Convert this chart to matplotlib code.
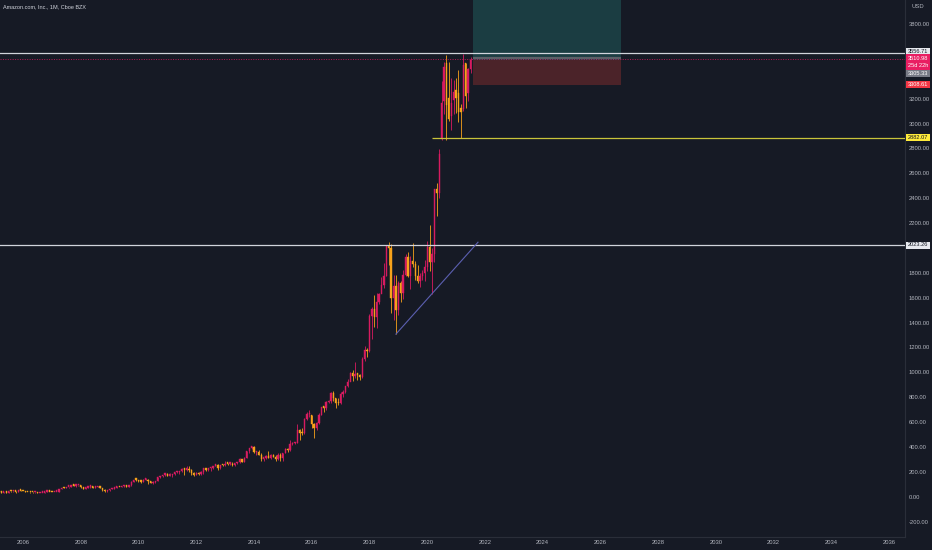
import matplotlib
matplotlib.use("Agg")
import matplotlib.pyplot as plt
from matplotlib.patches import Rectangle
import numpy as np

plt.rcParams["font.family"] = ["Liberation Sans", "DejaVu Sans"]

# ---------------- data (monthly AMZN candles, Jan 2005 .. Jul 2021) ----------------
start_year = 2005
opens = [
    44.9, 43.0, 35.0, 34.3, 32.4, 35.5, 33.1, 45.0, 42.7, 45.3, 39.9, 48.5,
    47.2, 45.0, 37.4, 36.5, 35.2, 34.6, 38.7, 27.0, 30.8, 32.1, 38.1, 40.3,
    39.5, 37.7, 39.1, 39.8, 61.3, 69.1, 68.4, 78.5, 79.9, 93.2, 89.2, 90.6,
    92.6, 77.7, 64.5, 71.3, 78.6, 81.6, 73.3, 76.3, 80.8, 72.8, 57.2, 42.7,
    51.3, 58.8, 64.8, 73.4, 80.5, 78.0, 83.7, 85.8, 81.2, 93.4, 118.8, 135.9,
    134.5, 125.4, 118.4, 135.8, 137.1, 125.5, 109.3, 117.9, 124.8, 157.1, 165.2, 175.4,
    180.0, 169.6, 173.3, 180.1, 195.8, 196.7, 204.5, 222.5, 215.2, 216.2, 213.5, 192.3,
    173.1, 194.4, 179.7, 202.5, 231.9, 212.9, 228.4, 233.3, 248.3, 254.3, 232.9, 252.1,
    250.9, 265.5, 264.3, 266.5, 253.8, 269.2, 277.7, 301.2, 281.0, 312.6, 364.0, 393.6,
    398.8, 358.7, 362.1, 336.4, 304.1, 312.6, 324.8, 313.0, 339.0, 322.4, 305.5, 338.6,
    310.4, 354.5, 380.2, 372.1, 421.8, 429.2, 434.1, 536.2, 512.9, 511.9, 625.9, 664.8,
    656.3, 587.0, 552.5, 593.6, 659.6, 722.8, 715.6, 758.8, 769.2, 837.3, 789.8, 750.6,
    749.9, 823.5, 845.0, 886.5, 925.0, 994.6, 968.0, 987.8, 980.6, 961.4, 1105.3, 1176.8,
    1169.5, 1450.9, 1512.5, 1447.3, 1566.1, 1629.6, 1699.8, 1777.4, 2012.7, 2003.0, 1598.0, 1690.2,
    1502.0, 1718.7, 1639.8, 1780.8, 1926.5, 1775.1, 1893.6, 1866.8, 1776.3, 1735.9, 1776.7, 1800.8,
    1847.8, 2008.7, 1883.8, 1949.7, 2474.0, 2442.4, 2878.7, 3180.0, 3489.6, 3208.0, 3061.7, 3188.5,
    3270.0, 3242.4, 3127.0, 3117.0, 3484.7, 3243.5, 3434.6,
]
highs = [
    45.0, 44.0, 36.5, 35.5, 36.5, 36.0, 45.5, 46.0, 46.0, 46.2, 48.9, 50.0,
    48.6, 45.5, 38.0, 38.5, 36.0, 39.5, 39.5, 31.0, 33.5, 39.0, 42.0, 41.5,
    40.9, 41.5, 40.5, 63.8, 73.0, 74.7, 80.9, 81.2, 94.0, 101.1, 94.5, 96.3,
    97.4, 81.5, 76.3, 82.5, 84.9, 82.5, 81.0, 87.2, 86.0, 73.0, 58.0, 55.0,
    60.0, 69.0, 75.0, 82.2, 81.9, 89.6, 92.5, 86.5, 96.0, 122.5, 137.0, 145.9,
    136.6, 126.5, 138.5, 151.1, 141.5, 129.5, 124.0, 126.6, 160.5, 170.2, 177.0, 184.8,
    191.6, 191.4, 181.2, 197.8, 206.4, 206.1, 227.2, 227.0, 244.0, 246.7, 219.0, 197.0,
    195.4, 196.0, 205.0, 232.0, 232.0, 229.0, 235.3, 249.3, 264.1, 263.0, 254.0, 262.0,
    284.7, 269.0, 276.0, 277.6, 272.0, 281.0, 309.4, 305.0, 318.0, 368.4, 395.0, 405.6,
    408.1, 366.0, 377.0, 348.0, 315.0, 336.0, 365.0, 342.0, 345.7, 338.6, 350.0, 352.0,
    355.0, 389.4, 389.0, 452.6, 436.0, 443.0, 580.6, 541.2, 555.0, 635.2, 681.0, 696.4,
    657.7, 590.0, 596.8, 669.3, 724.2, 731.5, 766.0, 774.5, 839.0, 847.2, 795.0, 791.3,
    843.8, 860.9, 890.4, 949.6, 1001.2, 1017.0, 1083.3, 994.0, 985.0, 1122.8, 1213.4, 1194.8,
    1472.6, 1528.7, 1617.5, 1638.1, 1635.0, 1763.1, 1880.1, 2025.6, 2050.5, 2033.2, 1784.0, 1778.3,
    1736.4, 1730.0, 1823.0, 1952.1, 1964.4, 1935.2, 2035.8, 1898.0, 1860.0, 1798.9, 1824.7, 1901.4,
    2055.7, 2185.9, 1996.3, 2475.0, 2525.5, 2796.0, 3344.3, 3495.0, 3552.3, 3496.0, 3366.8, 3350.7,
    3363.9, 3434.0, 3153.0, 3555.0, 3486.7, 3450.0, 3537.0,
]
lows = [
    42.0, 34.5, 33.5, 30.6, 32.0, 33.0, 33.0, 41.0, 41.5, 33.5, 39.5, 46.0,
    44.0, 35.0, 35.2, 33.5, 32.0, 33.5, 26.0, 26.5, 29.5, 31.5, 37.5, 38.0,
    36.3, 37.0, 35.5, 39.5, 60.0, 66.0, 67.5, 69.0, 78.5, 82.5, 80.5, 88.0,
    69.9, 62.0, 61.5, 70.0, 71.0, 72.5, 70.0, 75.0, 67.0, 47.5, 34.7, 40.0,
    47.5, 58.0, 59.5, 72.0, 74.0, 77.5, 76.0, 77.5, 79.5, 86.5, 117.0, 126.5,
    118.1, 112.0, 116.5, 135.0, 105.5, 108.5, 104.5, 113.5, 123.5, 151.5, 157.5, 170.0,
    163.6, 169.0, 160.6, 175.0, 190.0, 181.6, 201.0, 177.0, 210.5, 198.0, 175.0, 166.0,
    172.5, 172.0, 176.0, 185.5, 208.5, 208.0, 207.0, 225.5, 245.0, 218.2, 220.8, 243.0,
    248.0, 256.0, 257.0, 246.0, 249.0, 263.0, 270.0, 279.0, 280.0, 310.0, 355.0, 380.0,
    355.0, 338.0, 331.6, 284.4, 284.4, 307.0, 312.0, 304.0, 318.0, 284.0, 298.0, 285.3,
    285.3, 350.0, 360.0, 366.0, 415.0, 420.0, 430.0, 452.5, 495.0, 506.0, 614.0, 639.0,
    556.0, 474.0, 538.0, 585.0, 656.0, 682.1, 695.0, 752.0, 755.0, 767.0, 710.1, 740.0,
    747.7, 803.0, 833.3, 884.5, 927.8, 927.0, 951.0, 940.2, 942.0, 956.0, 1094.0, 1124.7,
    1163.8, 1265.9, 1365.2, 1352.9, 1546.0, 1635.1, 1678.1, 1776.0, 1865.0, 1476.4, 1420.0, 1307.0,
    1460.9, 1566.8, 1586.6, 1775.2, 1767.2, 1672.0, 1849.4, 1743.5, 1717.0, 1685.1, 1739.8, 1735.0,
    1815.3, 1811.1, 1626.0, 1889.2, 2256.9, 2404.0, 2871.0, 3073.0, 2871.0, 3019.0, 2950.0, 3072.8,
    3086.0, 3009.0, 2881.0, 3104.0, 3127.4, 3184.3, 3404.0,
]
closes = [
    43.2, 34.9, 34.3, 32.4, 35.5, 33.1, 45.0, 42.7, 45.3, 39.9, 48.5, 47.2,
    45.0, 37.4, 36.5, 35.2, 34.6, 38.7, 27.0, 30.8, 32.1, 38.1, 40.3, 39.5,
    37.7, 39.1, 39.8, 61.3, 69.1, 68.4, 78.5, 79.9, 93.2, 89.2, 90.6, 92.6,
    77.7, 64.5, 71.3, 78.6, 81.6, 73.3, 76.3, 80.8, 72.8, 57.2, 42.7, 51.3,
    58.8, 64.8, 73.4, 80.5, 78.0, 83.7, 85.8, 81.2, 93.4, 118.8, 135.9, 134.5,
    125.4, 118.4, 135.8, 137.1, 125.5, 109.3, 117.9, 124.8, 157.1, 165.2, 175.4, 180.0,
    169.6, 173.3, 180.1, 195.8, 196.7, 204.5, 222.5, 215.2, 216.2, 213.5, 192.3, 173.1,
    194.4, 179.7, 202.5, 231.9, 212.9, 228.4, 233.3, 248.3, 254.3, 232.9, 252.1, 250.9,
    265.5, 264.3, 266.5, 253.8, 269.2, 277.7, 301.2, 281.0, 312.6, 364.0, 393.6, 398.8,
    358.7, 362.1, 336.4, 304.1, 312.6, 324.8, 313.0, 339.0, 322.4, 305.5, 338.6, 310.4,
    354.5, 380.2, 372.1, 421.8, 429.2, 434.1, 536.2, 512.9, 511.9, 625.9, 664.8, 675.9,
    587.0, 552.5, 593.6, 659.6, 722.8, 715.6, 758.8, 769.2, 837.3, 789.8, 750.6, 749.9,
    823.5, 845.0, 886.5, 925.0, 994.6, 968.0, 987.8, 980.6, 961.4, 1105.3, 1176.8, 1169.5,
    1450.9, 1512.5, 1447.3, 1566.1, 1629.6, 1699.8, 1777.4, 2012.7, 2003.0, 1598.0, 1690.2, 1502.0,
    1718.7, 1639.8, 1780.8, 1926.5, 1775.1, 1893.6, 1866.8, 1776.3, 1735.9, 1776.7, 1800.8, 1847.8,
    2008.7, 1883.8, 1949.7, 2474.0, 2442.4, 2758.8, 3164.7, 3450.96, 3148.7, 3036.2, 3168.0, 3256.9,
    3206.2, 3092.9, 3094.1, 3467.4, 3223.1, 3440.2, 3510.98,
]

year_ticks = list(range(2006, 2037, 2))
price_ticks = [-200, 0, 200, 400, 600, 800, 1000, 1200, 1400, 1600, 1800,
               2200, 2400, 2600, 2800, 3000, 3200, 3800]

level_high = 3556.71
last_price = 3510.98
countdown = "25d 22h"
gray_level = 3305.33
stop_level = 3308.61
support_level = 2882.07
breakout_level = 2023.26

title = "Amazon.com, Inc., 1M, Cboe BZX"
currency = "USD"

# ---------------- style ----------------
BG = "#161a25"
TXT = "#b2b5be"
UP = "#d81b60"
DOWN = "#f7a21b"
SEP = "#2a2e39"
FS = 4.2

W, H = 932, 550
fig = plt.figure(figsize=(W / 100, H / 100), dpi=100, facecolor=BG)
ax = fig.add_axes([0, 13 / H, 905 / W, 537 / H], facecolor=BG)

n = len(closes)
x = np.array([start_year + i / 12.0 for i in range(n)])
o = np.array(opens); h = np.array(highs); l = np.array(lows); c = np.array(closes)
up = c >= o
cols = np.where(up, UP, DOWN)

ax.vlines(x, l, h, colors=cols, linewidth=0.6, zorder=3)
body_bottom = np.minimum(o, c)
body_h = np.maximum(np.abs(c - o), 12)
ax.bar(x, body_h, bottom=body_bottom, width=0.045, color=cols, edgecolor=cols,
       linewidth=0.3, zorder=4)

xmin, xmax = 2005.203, 2036.55
ymin, ymax = -324, 3993
ax.set_xlim(xmin, xmax)
ax.set_ylim(ymin, ymax)

# position tool boxes
box_x0, box_x1 = 2021.59, 2026.70
ax.add_patch(Rectangle((box_x0, last_price), box_x1 - box_x0, 4300 - last_price,
                       facecolor="#1b3d42", edgecolor="none", zorder=1))
ax.add_patch(Rectangle((box_x0, stop_level), box_x1 - box_x0, last_price - stop_level,
                       facecolor="#4b2329", edgecolor="none", zorder=1))
ax.hlines(last_price + 12, box_x0, box_x1, colors="#5d6068", linewidth=1.6, zorder=1.5)

# horizontal lines
ax.axhline(level_high + 14, color="#d1d4dc", linewidth=0.9, zorder=5)
ax.axhline(last_price + 10, color=UP, linewidth=0.7, linestyle=(0, (1, 1.5)), zorder=5, alpha=0.8)
ax.axhline(breakout_level, color="#d1d4dc", linewidth=0.9, zorder=5)
ax.hlines(support_level, 2020.18, xmax, colors="#c9c33a", linewidth=0.9, zorder=5)

# trend line
ax.plot([2018 + 11 / 12, 2021.76], [1307, 2046], color="#5b5fb0", linewidth=0.8, zorder=5)

# axes styling
for s in ["top", "left"]:
    ax.spines[s].set_visible(False)
for s in ["right", "bottom"]:
    ax.spines[s].set_color(SEP)
    ax.spines[s].set_linewidth(0.8)
ax.yaxis.tick_right()
ax.set_xticks(year_ticks)
ax.set_xticklabels([str(y) for y in year_ticks])
ax.set_yticks(price_ticks)
ax.set_yticklabels([f"{v:.2f}" for v in price_ticks])
ax.tick_params(axis="x", length=0, pad=2.2, labelsize=FS, colors=TXT)
ax.tick_params(axis="y", length=0, pad=2.6, labelsize=FS, colors=TXT)

# title & currency
fig.text(3 / W, 1 - 7 / H, title, color="#d1d4dc", fontsize=4.0, va="center", ha="left")
fig.text(918 / W, 1 - 7 / H, currency, color=TXT, fontsize=FS, va="center", ha="center")

# right-side price labels (pixel positions)
LFS = 4.1
def price_label(ypix, text, bg, fg, h=7.0):
    fig.patches.append(Rectangle((906 / W, 1 - (ypix + h / 2) / H), 24 / W, h / H,
                                 transform=fig.transFigure, facecolor=bg, edgecolor="none",
                                 zorder=10, figure=fig))
    fig.text(918 / W, 1 - ypix / H, text, color=fg, fontsize=LFS, ha="center", va="center",
             zorder=11)

price_label(51.3, f"{level_high:.2f}", "#e6e8ee", "#131722")
fig.patches.append(Rectangle((906 / W, 1 - 70 / H), 24 / W, 15.5 / H, transform=fig.transFigure,
                             facecolor="#e91e63", edgecolor="none", zorder=10, figure=fig))
fig.text(918 / W, 1 - 58.3 / H, f"{last_price:.2f}", color="white", fontsize=LFS, ha="center", va="center", zorder=11)
fig.text(918 / W, 1 - 65.8 / H, countdown, color="white", fontsize=LFS, ha="center", va="center", zorder=11)
price_label(73.5, f"{gray_level:.2f}", "#787b86", "white")
price_label(84.0, f"{stop_level:.2f}", "#f23645", "white")
price_label(137.5, f"{support_level:.2f}", "#ffeb3b", "#131722")
price_label(245.0, f"{breakout_level:.2f}", "#e6e8ee", "#131722")

fig.savefig("out.png", dpi=100, facecolor=BG)
